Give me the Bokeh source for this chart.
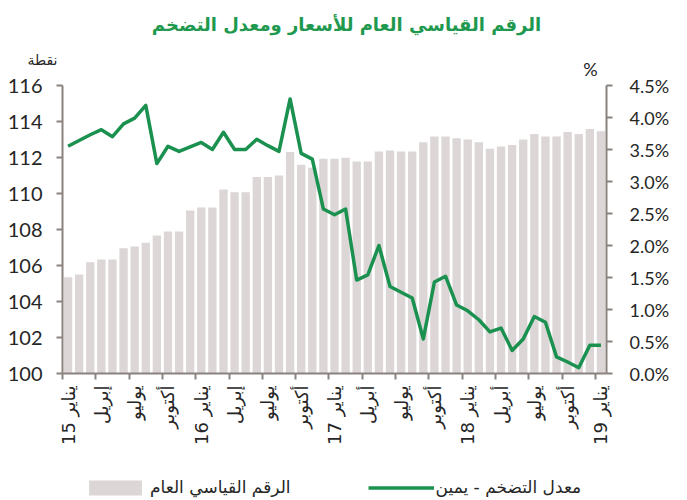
import math
from bokeh.plotting import figure
from bokeh.models import (Range1d, LinearAxis, FixedTicker, PrintfTickFormatter,
                          Legend, LegendItem, Label, ColumnDataSource, CustomJSTickFormatter)
from bokeh.embed import file_html
from bokeh.resources import INLINE

# ---------------- data ----------------
cpi_index = [105.35, 105.5, 106.18, 106.33, 106.33, 106.96, 107.05, 107.26, 107.67, 107.89,
             107.89, 109.06, 109.22, 109.22, 110.22, 110.07, 110.07, 110.91, 110.91, 111.0,
             112.3, 111.6, 111.43, 111.93, 111.93, 111.98, 111.78, 111.78, 112.33, 112.39,
             112.33, 112.33, 112.85, 113.17, 113.17, 113.07, 113.0, 112.85, 112.48, 112.61,
             112.7, 113.0, 113.31, 113.17, 113.17, 113.41, 113.31, 113.59, 113.46]
inflation_pct = [3.55, 3.64, 3.73, 3.81, 3.70, 3.90, 3.99, 4.19, 3.28, 3.55,
                 3.47, 3.54, 3.61, 3.50, 3.77, 3.50, 3.50, 3.66, 3.56, 3.47,
                 4.29, 3.44, 3.35, 2.57, 2.48, 2.57, 1.46, 1.54, 2.00, 1.36,
                 1.27, 1.18, 0.54, 1.43, 1.52, 1.07, 0.98, 0.84, 0.65, 0.71,
                 0.36, 0.54, 0.89, 0.80, 0.26, 0.18, 0.09, 0.44, 0.44]
tick_months = [0, 3, 6, 9, 12, 15, 18, 21, 24, 27, 30, 33, 36, 39, 42, 45, 48]
tick_labels = ["يناير 15", "إبريل", "يوليو", "أكتوبر",
               "يناير 16", "إبريل", "يوليو", "أكتوبر",
               "يناير 17", "أبريل", "يوليو", "أكتوبر",
               "يناير 18", "أبريل", "يوليو", "أكتوبر",
               "يناير 19"]
left_ticks = [100, 102, 104, 106, 108, 110, 112, 114, 116]
right_ticks = [0.0, 0.5, 1.0, 1.5, 2.0, 2.5, 3.0, 3.5, 4.0, 4.5]

title_text = "الرقم القياسي العام للأسعار ومعدل التضخم"
left_unit = "نقطة"
right_unit = "%"
bar_name = "الرقم القياسي العام"
line_name = "معدل التضخم - يمين"

GREEN = "#1b9150"
TITLE_GREEN = "#20994f"
BAR = "#dcd6d6"
AXIS = "#8a827e"
TXT = "#262626"
AR_FONT = "DejaVu Sans"
NUM_FONT = "Lato"

# ---------------- geometry (pixels) ----------------
W, H = 687, 500
PL, PR, PT, PB = 62, 606, 85, 373          # plot-area edges on the canvas
n = len(cpi_index)
x0, x1 = -0.5, n - 0.5
yl0, yl1 = 100, 116
yr0, yr1 = 0.0, 4.5
kx = (PR - PL) / (x1 - x0)
kl = (PB - PT) / (yl1 - yl0)
kr = (PB - PT) / (yr1 - yr0)

# the frame covers the whole canvas; axes are pinned at the plot-area edges
p = figure(width=W, height=H, output_backend="svg", toolbar_location=None,
           x_range=Range1d(x0 - PL / kx, x1 + (W - PR) / kx),
           y_range=Range1d(yl0 - (H - PB) / kl, yl1 + PT / kl),
           min_border=0, x_axis_type=None, y_axis_type=None)
p.outline_line_color = None
p.xgrid.grid_line_color = None
p.ygrid.grid_line_color = None
p.extra_y_ranges = {"pct": Range1d(yr0 - (H - PB) / kr, yr1 + PT / kr)}

src = ColumnDataSource(dict(x=list(range(n)), cpi=cpi_index, inf=inflation_pct))
bars = p.vbar(x="x", top="cpi", bottom=yl0, width=0.75, source=src,
              fill_color=BAR, line_color=None)
line = p.line(x="x", y="inf", source=src, y_range_name="pct",
              line_color=GREEN, line_width=3.5, line_join="round")

yl = LinearAxis(ticker=FixedTicker(ticks=left_ticks), fixed_location=x0, bounds=(yl0, yl1))
yr = LinearAxis(y_range_name="pct", ticker=FixedTicker(ticks=right_ticks),
                formatter=PrintfTickFormatter(format="%.1f%%"),
                fixed_location=x1, bounds=(yr0, yr1))
edges = [m - 0.5 for m in tick_months]
xt = LinearAxis(ticker=FixedTicker(ticks=edges), fixed_location=yl0, bounds=(x0, x1),
                formatter=CustomJSTickFormatter(code="return ''"))
xl = LinearAxis(ticker=FixedTicker(ticks=tick_months), fixed_location=yl0, bounds=(x0, x1),
                major_label_overrides={m: t for m, t in zip(tick_months, tick_labels)})

for ax in (yl, yr, xt):
    ax.axis_line_color = AXIS
    ax.axis_line_width = 2
    ax.major_tick_line_color = AXIS
    ax.major_tick_line_width = 2
    ax.major_tick_out = 6
    ax.major_tick_in = 0
    ax.minor_tick_line_color = None

for ax in (yl, yr):
    ax.major_label_text_color = TXT
    ax.major_label_text_font = NUM_FONT
yl.major_label_text_font_size = "20px"
yr.major_label_text_font_size = "18px"
yl.major_label_standoff = 14
yr.major_label_standoff = 17

xt.major_label_standoff = 0
xt.major_label_text_font_size = "1px"

xl.axis_line_color = None
xl.major_tick_line_color = None
xl.minor_tick_line_color = None
xl.major_tick_out = 0
xl.major_tick_in = 0
xl.major_label_orientation = math.pi / 2
xl.major_label_text_font = AR_FONT
xl.major_label_text_font_size = "18px"
xl.major_label_text_color = TXT
xl.major_label_standoff = 12

p.add_layout(yl, "left")
p.add_layout(yr, "right")
p.add_layout(xt, "below")
p.add_layout(xl, "below")

# title and unit captions (screen units, measured from the bottom-left corner)
p.add_layout(Label(x=346, y=H - 24, x_units="screen", y_units="screen", text=title_text,
                   text_align="center", text_baseline="middle", text_font=AR_FONT,
                   text_font_style="bold", text_font_size="18px", text_color=TITLE_GREEN))
p.add_layout(Label(x=57, y=H - 59, x_units="screen", y_units="screen", text=left_unit,
                   text_align="right", text_baseline="middle", text_font=AR_FONT,
                   text_font_size="14px", text_color=TXT))
p.add_layout(Label(x=590, y=H - 68, x_units="screen", y_units="screen", text=right_unit,
                   text_align="center", text_baseline="middle", text_font=NUM_FONT,
                   text_font_size="18px", text_color=TXT))

legend = Legend(items=[LegendItem(label=bar_name, renderers=[bars]),
                       LegendItem(label=line_name, renderers=[line])],
                orientation="horizontal", location=(82, 3),
                glyph_width=66, glyph_height=19, label_standoff=2, spacing=77,
                label_text_font=AR_FONT, label_text_font_size="17px",
                label_text_color=TXT, border_line_color=None,
                background_fill_alpha=0, margin=0, padding=4)
p.add_layout(legend, "center")

open("out.html", "w").write(file_html(p, INLINE))
